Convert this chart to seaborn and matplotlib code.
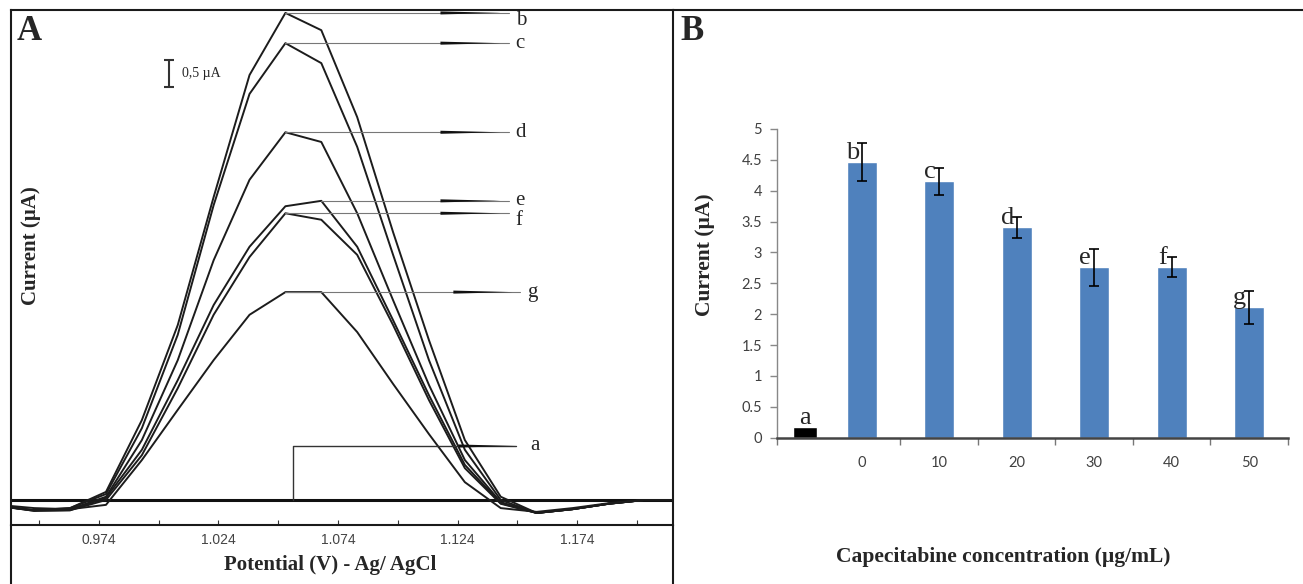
import numpy as np
import pandas as pd
import matplotlib
matplotlib.use("Agg")
import matplotlib.pyplot as plt
from matplotlib.lines import Line2D
from matplotlib.ticker import FixedLocator, FuncFormatter
import seaborn as sns

# ==============================
# DATA - panel A (DPV curves, current in uA)
# ==============================
potential = [0.932, 0.947, 0.962, 0.977, 0.992, 1.007, 1.022, 1.037, 1.052, 1.067,
             1.082, 1.097, 1.112, 1.127, 1.142, 1.157, 1.172, 1.187, 1.202, 1.220]

curve_b = [-0.11, -0.19, -0.15, 0.15, 1.48, 3.24, 5.61, 7.87, 9.02, 8.70,
           7.09, 4.96, 2.96, 1.11, 0.06, -0.24, -0.17, -0.07, 0.00, 0.00]
curve_c = [-0.11, -0.19, -0.15, 0.11, 1.33, 3.06, 5.46, 7.52, 8.46, 8.09,
           6.54, 4.54, 2.59, 0.93, 0.00, -0.24, -0.17, -0.07, 0.00, 0.00]
curve_d = [-0.11, -0.19, -0.17, 0.06, 1.11, 2.59, 4.44, 5.93, 6.81, 6.63,
           5.31, 3.70, 2.13, 0.74, -0.04, -0.24, -0.17, -0.07, 0.00, 0.00]
curve_e = [-0.11, -0.20, -0.19, 0.04, 0.93, 2.22, 3.61, 4.69, 5.44, 5.54,
           4.69, 3.33, 1.94, 0.65, -0.06, -0.24, -0.17, -0.07, 0.00, 0.00]
curve_f = [-0.11, -0.20, -0.19, 0.00, 0.83, 2.07, 3.43, 4.50, 5.31, 5.19,
           4.54, 3.24, 1.85, 0.59, -0.07, -0.24, -0.17, -0.07, 0.00, 0.00]
curve_g = [-0.09, -0.15, -0.17, -0.09, 0.74, 1.67, 2.59, 3.43, 3.85, 3.85,
           3.11, 2.15, 1.22, 0.33, -0.15, -0.22, -0.15, -0.06, 0.00, 0.00]

curve_names = ["b", "c", "d", "e", "f", "g"]
xticks_A = [0.974, 1.024, 1.074, 1.124, 1.174]
xminor_A = [0.949, 0.999, 1.049, 1.099, 1.149, 1.199]

# ==============================
# DATA - panel B (peak current vs concentration)
# ==============================
conc_labels = ["0", "10", "20", "30", "40", "50"]
bar_letters = ["b", "c", "d", "e", "f", "g"]
peak_current = [4.47, 4.15, 3.41, 2.76, 2.76, 2.11]
peak_err = [0.31, 0.22, 0.17, 0.30, 0.16, 0.27]
blank_current = 0.18
yticks_B = [0, 0.5, 1, 1.5, 2, 2.5, 3, 3.5, 4, 4.5, 5]

# ==============================
# FIGURE
# ==============================
sns.set_style("white")
SERIF = ["Liberation Serif", "DejaVu Serif"]
W, H = 1303, 584
fig = plt.figure(figsize=(W / 100, H / 100), dpi=100)

axA = fig.add_axes([11 / W, 1 - 525 / H, (673 - 11) / W, (525 - 10) / H])
axB = fig.add_axes([777.3 / W, 1 - 437.7 / H, (1288 - 777.3) / W, (437.7 - 129) / H])

# ---------- panel A ----------
curves = [curve_b, curve_c, curve_d, curve_e, curve_f, curve_g]
dfA = pd.concat([
    pd.DataFrame({"E": potential, "I": c, "curve": n})
    for n, c in zip(curve_names, curves)
])

sns.lineplot(data=dfA, x="E", y="I", hue="curve", palette=["#1c1c1c"] * 6,
             legend=False, sort=False, estimator=None, lw=1.4, ax=axA)
axA.axhline(0, color="#111111", lw=2.2, zorder=1)   # blank (a)

axA.set_xlim(0.9373, 1.214)
axA.set_ylim(-0.463, 9.074)
axA.set_xlabel("")
axA.set_ylabel("")
axA.set_yticks([])
axA.xaxis.set_major_locator(FixedLocator(xticks_A))
axA.xaxis.set_minor_locator(FixedLocator(xminor_A))
axA.xaxis.set_major_formatter(FuncFormatter(lambda v, p: f"{v:.3f}"))
axA.tick_params(axis="x", which="both", direction="in", length=3.5, width=0.8,
                color="#333333", bottom=True, labelsize=10, labelcolor="#444444", pad=6)
for lab in axA.get_xticklabels():
    lab.set_family(["Liberation Sans Narrow", "Liberation Sans"])
for s in axA.spines.values():
    s.set_color("#1a1a1a")
    s.set_linewidth(1.5)

# annotation lines with wedges and letters
wedge = dict(arrowstyle="wedge,tail_width=0.22", color="#111111", lw=0,
             shrinkA=0, shrinkB=0)
for n, c in zip(curve_names, curves):
    k = int(np.argmax(c))
    y = c[k]
    far = n == "g"
    tail, head, end, tx = (1.1222, 1.1469, 1.1500, 1.1532) if far else (1.1168, 1.1419, 1.1453, 1.1482)
    axA.plot([potential[k], end], [y, y], color="#777777", lw=0.8)
    axA.annotate("", xy=(head, y), xytext=(tail, y), arrowprops=wedge)
    ty = min(y, 8.88) - (0.14 if n == "f" else 0)
    axA.text(tx, ty, n, ha="left", va="center", fontsize=15,
             family=SERIF, clip_on=False)

# blank (a) bracket
ya = 1.0
axA.plot([1.055, 1.055, 1.1482], [0, ya, ya], color="#333333", lw=1.0)
axA.annotate("", xy=(1.1482, ya), xytext=(1.1243, ya), arrowprops=wedge)
axA.text(1.1545, ya, "a", ha="left", va="center", fontsize=15, family=SERIF)

# 0.5 uA scale bar
axA.errorbar([1.0034], [7.895], yerr=0.255, fmt="none", ecolor="#333333",
             elinewidth=1.5, capsize=3.5, capthick=1.5)
axA.text(1.0088, 7.9, "0,5 µA", ha="left", va="center", fontsize=10, family=SERIF)

# ---------- panel B ----------
dfB = pd.DataFrame({"conc": conc_labels, "current": peak_current})
sns.barplot(data=dfB, x="conc", y="current", order=conc_labels, color="#4F81BD",
            saturation=1, width=0.385, errorbar=None, ax=axB)
axB.bar([-0.729], [blank_current], width=0.31, color="black")
axB.errorbar(range(len(peak_current)), peak_current, yerr=peak_err, fmt="none",
             ecolor="black", elinewidth=1.2, capsize=3.5, capthick=1.2)

for i, (v, l) in enumerate(zip(peak_current, bar_letters)):
    axB.text(i - 0.12, v + 0.05, l, ha="center", va="baseline", fontsize=19,
             family=SERIF)
axB.text(-0.729, blank_current + 0.04, "a", ha="center", va="baseline",
         fontsize=19, family=SERIF)

axB.set_xlim(-1.087, 5.5)
axB.set_ylim(0, 5)
axB.set_yticks(yticks_B)
axB.yaxis.set_major_formatter(FuncFormatter(lambda v, p: f"{v:g}"))
axB.set_xlabel("")
axB.set_ylabel("")
axB.xaxis.set_minor_locator(FixedLocator([-1.087, 0.5, 1.5, 2.5, 3.5, 4.5, 5.5]))
axB.tick_params(axis="x", which="major", length=0, pad=13, labelsize=10.5,
                labelcolor="#404040")
axB.tick_params(axis="x", which="minor", bottom=True, length=5, width=1,
                color="#777777", direction="out")
axB.tick_params(axis="y", left=True, length=5, width=1, color="#888888",
                direction="out", pad=6, labelsize=10.5, labelcolor="#404040")
for lab in axB.get_xticklabels() + axB.get_yticklabels():
    lab.set_family(["Lato", "DejaVu Sans"])
sns.despine(ax=axB)
axB.spines["left"].set_color("#888888")
axB.spines["left"].set_linewidth(1)
axB.spines["bottom"].set_color("#444444")
axB.spines["bottom"].set_linewidth(1.8)

# ---------- frame and texts ----------
ytop = 1 - 10 / H
fig.add_artist(Line2D([673 / W, 1.0], [ytop, ytop], color="#1a1a1a", lw=1.5))
for xp in (11, 673):
    fig.add_artist(Line2D([xp / W, xp / W], [0, 1 - 525 / H], color="#1a1a1a", lw=1.5))

fig.text(29 / W, 1 - 32 / H, "A", fontsize=25, fontweight="bold", family=SERIF,
         ha="center", va="center")
fig.text(692 / W, 1 - 32 / H, "B", fontsize=25, fontweight="bold", family=SERIF,
         ha="center", va="center")
fig.text(31 / W, 1 - 246 / H, "Current (µA)", rotation=90, fontsize=15,
         fontweight="bold", family=SERIF, ha="center", va="center")
fig.text(330 / W, 1 - 565 / H, "Potential (V) - Ag/ AgCl", fontsize=15,
         fontweight="bold", family=SERIF, ha="center", va="center")
fig.text(705 / W, 1 - 255 / H, "Current (µA)", rotation=90, fontsize=15.5,
         fontweight="bold", family=SERIF, ha="center", va="center")
fig.text(1003 / W, 1 - 557 / H, "Capecitabine concentration (µg/mL)", fontsize=15.5,
         fontweight="bold", family=SERIF, ha="center", va="center")

fig.savefig("out.png", dpi=100)
